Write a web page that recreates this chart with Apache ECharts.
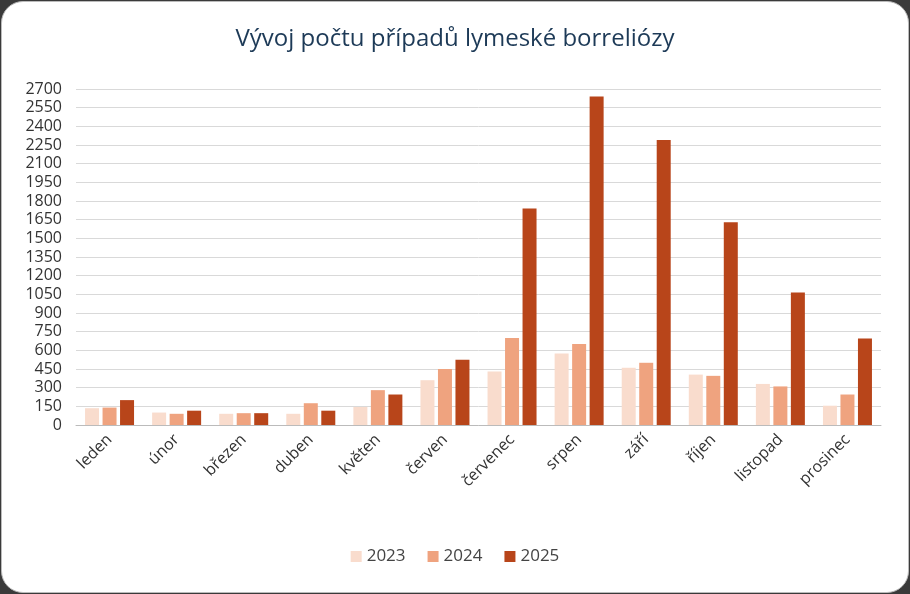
<html>
<head>
    <meta charset="utf-8" />
    <script src="https://cdn.jsdelivr.net/npm/echarts@6/dist/echarts.min.js"></script>
    <style>
        body { margin: 0; background: #3a3a3a; }
        #main { position: absolute; left: 1px; top: 1px; width: 906px; height: 590px; background: #fff; border: 1px solid #bbb; border-radius: 22px; overflow: hidden; }
    </style>
</head>
<body>
    <div id="main"></div>
    <script>
        var months = ['leden', 'únor', 'březen', 'duben', 'květen', 'červen', 'červenec', 'srpen', 'září', 'říjen', 'listopad', 'prosinec'];
        var y2023 = [135, 100, 90, 90, 145, 360, 430, 575, 460, 405, 330, 155];
        var y2024 = [140, 90, 95, 175, 280, 450, 700, 650, 500, 395, 310, 245];
        var y2025 = [200, 115, 95, 115, 245, 525, 1740, 2640, 2290, 1630, 1065, 695];

        var myChart = echarts.init(document.getElementById('main'));
        function bar(name, data, color) {
            return { name: name, type: 'bar', data: data, itemStyle: { color: color }, barWidth: 14, barGap: '25%' };
        }
        option = {
            title: {
                left: 'center', top: 20,
                text: 'Vývoj počtu případů lymeské borreliózy',
                textStyle: { fontFamily: 'Open Sans', fontSize: 24, fontWeight: 'normal', color: '#1d3a57' }
            },
            legend: {
                bottom: 22, itemWidth: 11, itemHeight: 11, itemGap: 22, icon: 'rect',
                textStyle: { fontFamily: 'Open Sans', fontSize: 17, color: '#444' }
            },
            grid: { left: 74, right: 27, top: 87, bottom: 167 },
            xAxis: {
                type: 'category', data: months,
                axisTick: { show: false },
                axisLine: { lineStyle: { color: '#bbb' } },
                axisLabel: { rotate: 45, fontFamily: 'Open Sans', fontSize: 16, color: '#333', margin: 12 }
            },
            yAxis: {
                type: 'value', min: 0, max: 2700, interval: 150,
                axisLabel: { fontFamily: 'Open Sans', fontSize: 16, color: '#333', margin: 14, formatter: function (v) { return String(v); } },
                splitLine: { lineStyle: { color: '#d9d9d9' } }
            },
            series: [
                bar('2023', y2023, '#f9dccd'),
                bar('2024', y2024, '#efa37f'),
                bar('2025', y2025, '#b8451a')
            ]
        };
        myChart.setOption(option);
    </script>
</body>
</html>
